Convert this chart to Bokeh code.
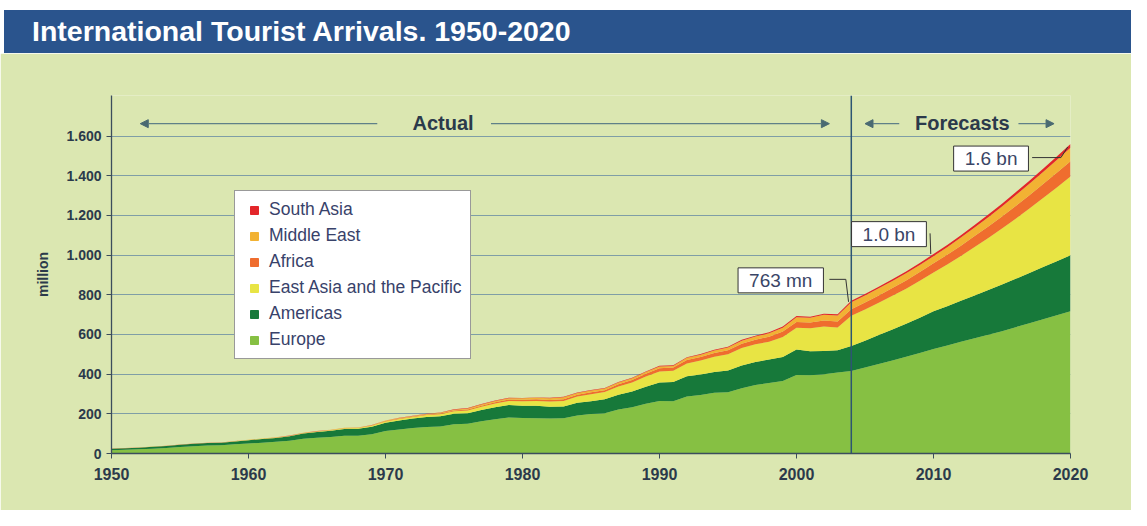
from bokeh.plotting import figure
from bokeh.models import (Range1d, FixedTicker, Label, Span, Arrow, NormalHead,
                          Legend, LegendItem, ColumnDataSource, Div)
from bokeh.layouts import column
from bokeh.embed import file_html
from bokeh.resources import INLINE

# ---------------- data (million arrivals) ----------------
years = list(range(1950, 2021))

europe = [
    16.8, 19.0, 21.0, 24.5, 27.8, 32.8, 37.0, 40.0, 41.3, 46.5,
    50.4, 54.5, 58.8, 64.8, 74.5, 79.8, 83.5, 89.5, 89.3, 97.0,
    113.0, 121.5, 128.0, 133.5, 136.5, 147.0, 150.0, 162.0, 172.5, 182.0,
    178.5, 178.0, 176.0, 177.5, 191.0, 199.0, 203.0, 222.0, 233.0, 251.0,
    265.0, 264.0, 288.0, 295.0, 306.0, 309.0, 329.0, 345.0, 355.0, 365.0,
    396.0, 394.0, 400.0, 408.0, 416.0, 433.0, 451.0, 469.0, 488.0, 507.0,
    527.0, 545.0, 563.0, 581.0, 599.0, 617.0, 637.0, 657.0, 677.0, 697.0,
    717.0]

americas = [
    7.5, 7.8, 8.2, 9.0, 9.8, 11.0, 11.9, 12.4, 12.8, 14.5,
    16.7, 18.5, 19.9, 22.0, 26.0, 28.5, 31.0, 34.5, 35.5, 38.0,
    42.3, 45.5, 48.0, 50.5, 51.5, 53.5, 53.0, 57.0, 61.0, 62.0,
    62.3, 62.5, 60.0, 59.5, 64.5, 65.0, 70.0, 74.5, 79.5, 85.0,
    92.8, 96.0, 102.0, 103.5, 105.5, 109.0, 114.5, 116.5, 119.0, 122.0,
    128.2, 122.0, 116.5, 113.0, 125.8, 136.0, 146.0, 156.0, 166.0, 178.0,
    190.0, 198.0, 207.0, 216.0, 225.0, 235.0, 244.0, 253.0, 263.0, 272.0,
    282.0]

east_asia_pacific = [
    0.2, 0.3, 0.3, 0.4, 0.5, 0.6, 0.6, 0.6, 0.6, 0.7,
    0.7, 0.8, 1.0, 1.2, 1.6, 2.0, 2.5, 2.9, 3.4, 4.3,
    6.2, 6.9, 7.9, 9.5, 10.5, 12.0, 14.0, 16.5, 18.5, 21.0,
    23.0, 24.5, 26.0, 28.0, 31.5, 34.5, 36.5, 41.5, 45.5, 52.0,
    56.2, 57.0, 63.5, 70.0, 76.5, 82.4, 88.5, 89.0, 89.5, 101.0,
    110.1, 115.0, 124.0, 114.0, 152.5, 157.0, 163.0, 170.0, 177.0, 186.0,
    195.0, 210.0, 226.0, 244.0, 262.0, 282.0, 303.0, 325.0, 348.0, 372.0,
    397.0]

africa = [
    0.5, 0.5, 0.55, 0.6, 0.6, 0.65, 0.7, 0.7, 0.7, 0.75,
    0.8, 0.85, 0.9, 1.0, 1.2, 1.3, 1.4, 1.5, 1.7, 2.0,
    2.4, 2.7, 3.0, 3.2, 3.5, 4.5, 5.0, 5.7, 6.3, 6.8,
    7.2, 8.0, 8.3, 8.8, 9.5, 10.0, 9.8, 10.8, 12.6, 13.8,
    15.2, 16.1, 18.0, 18.6, 19.0, 20.1, 21.6, 23.2, 25.4, 26.5,
    28.3, 28.9, 29.5, 31.0, 33.4, 35.0, 37.0, 39.0, 41.5, 44.0,
    47.0, 49.5, 52.0, 55.0, 58.0, 61.0, 64.0, 67.0, 70.5, 74.0,
    77.3]

middle_east = [
    0.2, 0.25, 0.3, 0.35, 0.4, 0.45, 0.5, 0.5, 0.5, 0.55,
    0.6, 0.7, 0.75, 0.9, 1.0, 1.1, 1.1, 1.0, 1.1, 1.4,
    1.9, 2.1, 2.3, 2.4, 3.2, 4.0, 5.0, 6.0, 6.5, 7.0,
    7.1, 7.5, 8.5, 9.5, 9.0, 9.3, 8.7, 9.0, 8.6, 9.0,
    9.6, 8.2, 10.9, 11.3, 12.4, 13.7, 14.9, 15.6, 17.0, 20.0,
    24.9, 24.2, 29.2, 30.0, 35.4, 35.5, 35.6, 35.7, 35.8, 35.9,
    35.9, 38.0, 41.0, 44.0, 47.0, 50.5, 54.0, 57.5, 61.0, 65.0,
    68.5]

south_asia = [
    0.04, 0.05, 0.05, 0.06, 0.07, 0.08, 0.1, 0.1, 0.12, 0.15,
    0.2, 0.22, 0.25, 0.3, 0.35, 0.4, 0.45, 0.5, 0.6, 0.7,
    0.9, 1.0, 1.1, 1.2, 1.4, 1.6, 1.8, 1.9, 2.1, 2.2,
    2.2, 2.3, 2.3, 2.4, 2.4, 2.5, 2.6, 2.7, 2.9, 3.0,
    3.2, 3.2, 3.5, 3.6, 3.9, 4.2, 4.4, 4.8, 5.2, 5.5,
    6.1, 5.8, 5.8, 6.5, 7.6, 8.0, 8.5, 9.0, 9.5, 10.0,
    10.6, 11.3, 12.0, 12.7, 13.4, 14.2, 15.0, 15.9, 16.8, 17.8,
    18.8]

keys = ["europe", "americas", "eap", "africa", "middle_east", "south_asia"]
regions = ["Europe", "Americas", "East Asia and the Pacific", "Africa",
           "Middle East", "South Asia"]
colors = ["#86c043", "#17793a", "#e8e444", "#ef6d2e", "#f2b233", "#e3262a"]

x_ticks = [1950, 1960, 1970, 1980, 1990, 2000, 2010, 2020]
y_ticks = [0, 200, 400, 600, 800, 1000, 1200, 1400, 1600]
y_tick_labels = ["0", "200", "400", "600", "800", "1.000", "1.200", "1.400", "1.600"]
forecast_start = 2004
callout_texts = ["763 mn", "1.0 bn", "1.6 bn"]
callout_years = [2004, 2010, 2020]
title_text = "International Tourist Arrivals. 1950-2020"

BG = "#dbe7b1"
BLUE = "#2a548d"
FONT = "Liberation Sans"
TXT = "#2b3a4b"

# ---------------- header band ----------------
header = Div(
    width=1131, height=53, margin=0,
    text=('<div style="margin:10px 0 0 4px;width:1127px;height:43px;background:%s;'
          'color:white;font-family:\'Liberation Sans\',Arial,sans-serif;font-weight:bold;'
          'font-size:28.5px;line-height:43px;padding-left:28px;box-sizing:border-box;'
          'white-space:nowrap;">%s</div>') % (BLUE, title_text),
    styles={"background-color": "white"})

# ---------------- chart ----------------
p = figure(width=1131, height=457, x_range=Range1d(1950, 2020), y_range=Range1d(0, 1805),
           output_backend="svg", toolbar_location=None, margin=0,
           min_border_left=111, min_border_right=61, min_border_top=42, min_border_bottom=57,
           background_fill_color=BG, border_fill_color=BG, outline_line_color=None)

source = ColumnDataSource(dict(year=years, europe=europe, americas=americas,
                               eap=east_asia_pacific, africa=africa,
                               middle_east=middle_east, south_asia=south_asia))
p.varea_stack(stackers=keys, x="year", color=colors, source=source)

# grid
p.xgrid.visible = False
p.ygrid.ticker = FixedTicker(ticks=y_ticks[1:])
p.ygrid.grid_line_color = "#7f9ea6"
p.ygrid.grid_line_width = 1

# axes
p.xaxis.ticker = FixedTicker(ticks=x_ticks)
p.yaxis.ticker = FixedTicker(ticks=y_ticks)
p.yaxis.major_label_overrides = {t: l for t, l in zip(y_ticks, y_tick_labels)}
for ax in (p.xaxis[0], p.yaxis[0]):
    ax.axis_line_color = "#3b4d5c"
    ax.axis_line_width = 1.3
    ax.major_tick_line_color = "#3b4d5c"
    ax.major_tick_out = 5
    ax.major_tick_in = 0
    ax.minor_tick_line_color = None
    ax.major_label_text_font = FONT
    ax.major_label_text_font_style = "bold"
    ax.major_label_text_color = TXT
p.xaxis.major_label_text_font_size = "16px"
p.xaxis.major_label_standoff = 9
p.yaxis.major_label_text_font_size = "14px"
p.yaxis.axis_label = "million"
p.yaxis.axis_label_text_font = FONT
p.yaxis.axis_label_text_font_style = "bold"
p.yaxis.axis_label_text_font_size = "14px"
p.yaxis.axis_label_text_color = TXT
p.yaxis.axis_label_standoff = 12

# actual / forecast divider
p.add_layout(Span(location=forecast_start, dimension="height",
                  line_color="#2d5573", line_width=1.5))

# Actual / Forecasts headers with arrows
ARROW_C = "#5f8088"
arrow_y = 1663
for xs, xe in [(1969.4, 1952.1), (1977.7, 2002.4), (2007.5, 2005.0), (2016.2, 2018.8)]:
    p.add_layout(Arrow(x_start=xs, y_start=arrow_y, x_end=xe, y_end=arrow_y,
                       line_color=ARROW_C, line_width=1.4,
                       end=NormalHead(size=8, fill_color="#4a6a72", line_color="#4a6a72")))
for x, t in [(1974.2, "Actual"), (2012.1, "Forecasts")]:
    p.add_layout(Label(x=x, y=1668, text=t, text_align="center", text_baseline="middle",
                       text_font=FONT, text_font_style="bold", text_font_size="20px",
                       text_color=TXT))

# callouts
totals = [sum(v) for v in zip(europe, americas, east_asia_pacific, africa, middle_east, south_asia)]
tot = {y: totals[years.index(y)] for y in callout_years}
conn = [
    ([2002.4, 2003.6, 2003.8], [878, 878, tot[2004] - 6]),
    ([2009.75, 2009.8], [1110, tot[2010]]),
    ([2017.2, 2019.3, 2019.8], [1492, 1492, tot[2020] - 15]),
]
for xs, ys in conn:
    p.line(xs, ys, line_color="#333333", line_width=1)

label_pos = [(1998.85, 873), (2006.75, 1106), (2014.2, 1487)]
for (x, y), t in zip(label_pos, callout_texts):
    p.add_layout(Label(x=x, y=y, text=t, text_align="center", text_baseline="middle",
                       text_font=FONT, text_font_size="19px", text_color="#3a4566",
                       background_fill_color="white", border_line_color="#333333",
                       border_line_width=1, padding=(11, 2)))

# legend (square swatches)
nan = float("nan")
items = []
for key, name, c in reversed(list(zip(keys, regions, colors))):
    r = p.scatter(x=[nan], y=[nan], marker="square", fill_color=c, line_color=c)
    items.append(LegendItem(label=name, renderers=[r]))
legend = Legend(items=items, location=(123, 94), padding=8, spacing=5,
                glyph_width=22, glyph_height=20, label_height=20, label_standoff=4,
                label_text_font=FONT, label_text_font_size="17.5px",
                label_text_color="#38426a",
                border_line_color="#333333", border_line_width=1,
                background_fill_color="white", background_fill_alpha=1)
p.add_layout(legend)

layout = column(header, p, spacing=0)
open("out.html", "w").write(file_html(layout, INLINE))
